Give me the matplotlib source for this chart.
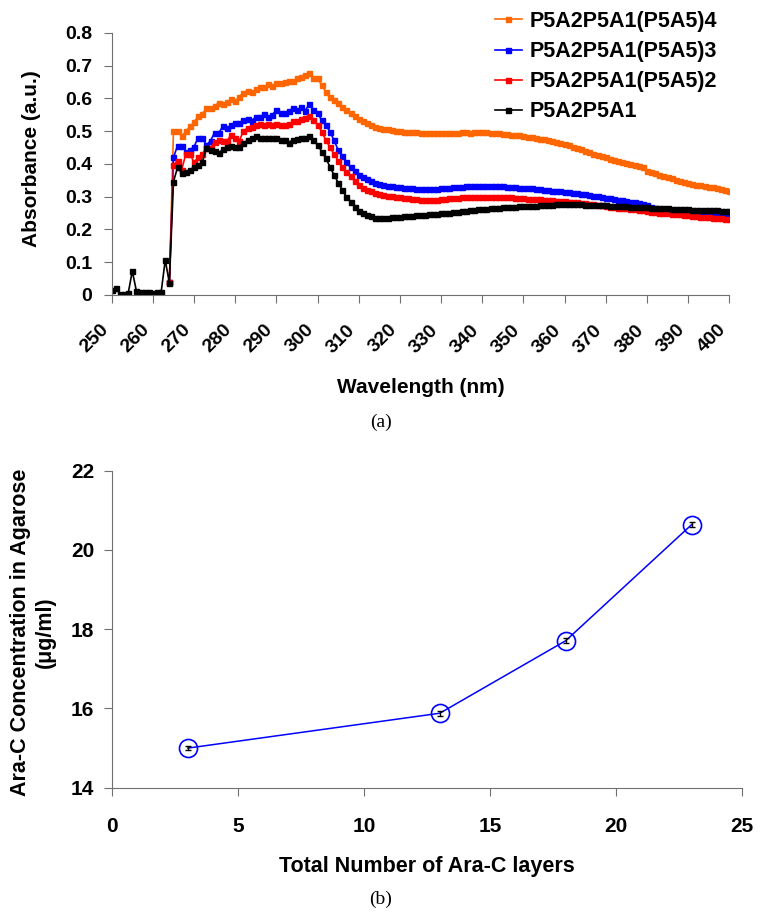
import numpy as np
import matplotlib
matplotlib.use("Agg")
import matplotlib.pyplot as plt

plt.rcParams['font.family'] = ['Liberation Sans', 'DejaVu Sans']
plt.rcParams['font.weight'] = 'bold'

# (a) absorbance spectra, 1 nm steps
wl_black = np.arange(250, 401)
wl_layers = np.arange(264, 401)

abs_black = [
    0.015, 0.02, 0.003, 0.003, 0.005, 0.073, 0.012, 0.008, 0.008, 0.008, 0.005, 0.01, 0.008, 0.107, 0.037,
    0.346, 0.39, 0.372, 0.376, 0.383, 0.39, 0.397, 0.405, 0.45, 0.443,
    0.44, 0.433, 0.445, 0.451, 0.455, 0.452, 0.453, 0.463, 0.473, 0.48,
    0.484, 0.48, 0.478, 0.478, 0.48, 0.48, 0.474, 0.474, 0.465, 0.474,
    0.475, 0.48, 0.478, 0.484, 0.473, 0.458, 0.438, 0.417, 0.392, 0.366,
    0.343, 0.321, 0.30, 0.285, 0.27, 0.257, 0.25, 0.244, 0.24, 0.236,
    0.235, 0.236, 0.236, 0.237, 0.238, 0.239, 0.24, 0.241, 0.242, 0.243,
    0.244, 0.245, 0.246, 0.247, 0.248, 0.249, 0.25, 0.251, 0.253, 0.254,
    0.256, 0.257, 0.259, 0.26, 0.262, 0.263, 0.264, 0.265, 0.266, 0.267,
    0.268, 0.269, 0.27, 0.27, 0.271, 0.271, 0.272, 0.272, 0.273, 0.274,
    0.275, 0.276, 0.276, 0.277, 0.277, 0.277, 0.277, 0.277, 0.277, 0.277,
    0.276, 0.276, 0.275, 0.275, 0.274, 0.274, 0.273, 0.272, 0.272, 0.271,
    0.271, 0.27, 0.27, 0.269, 0.268, 0.268, 0.267, 0.266, 0.266, 0.265,
    0.265, 0.264, 0.263, 0.263, 0.262, 0.262, 0.261, 0.261, 0.26, 0.259,
    0.259, 0.258, 0.258, 0.257, 0.257, 0.256,
]

abs_red = [
    0.04,
    0.397, 0.41, 0.383, 0.43, 0.43, 0.405, 0.42, 0.43, 0.45, 0.448,
    0.468, 0.473, 0.471, 0.471, 0.489, 0.478, 0.47, 0.502, 0.509, 0.514,
    0.519, 0.522, 0.52, 0.523, 0.52, 0.522, 0.52, 0.52, 0.521, 0.53,
    0.53, 0.536, 0.54, 0.545, 0.534, 0.519, 0.499, 0.473, 0.451, 0.43,
    0.41, 0.39, 0.376, 0.362, 0.349, 0.336, 0.328, 0.321, 0.316, 0.312,
    0.308, 0.305, 0.303, 0.301, 0.299, 0.298, 0.297, 0.295, 0.293, 0.292,
    0.291, 0.29, 0.29, 0.29, 0.291, 0.292, 0.293, 0.295, 0.296, 0.297,
    0.298, 0.298, 0.298, 0.298, 0.298, 0.298, 0.298, 0.299, 0.299, 0.298,
    0.299, 0.30, 0.298, 0.297, 0.296, 0.295, 0.294, 0.294, 0.293, 0.292,
    0.291, 0.29, 0.289, 0.288, 0.287, 0.286, 0.285, 0.284, 0.283, 0.281,
    0.28, 0.279, 0.277, 0.276, 0.274, 0.272, 0.27, 0.269, 0.267, 0.266,
    0.265, 0.264, 0.262, 0.26, 0.258, 0.256, 0.254, 0.253, 0.251, 0.25,
    0.249, 0.248, 0.247, 0.246, 0.245, 0.244, 0.242, 0.24, 0.239, 0.238,
    0.237, 0.236, 0.235, 0.234, 0.233, 0.232,
]

abs_blue = [
    0.04,
    0.42, 0.456, 0.456, 0.438, 0.443, 0.453, 0.48, 0.478, 0.458, 0.471,
    0.496, 0.494, 0.516, 0.509, 0.519, 0.524, 0.526, 0.534, 0.538, 0.532,
    0.544, 0.544, 0.552, 0.543, 0.55, 0.565, 0.557, 0.555, 0.562, 0.57,
    0.565, 0.573, 0.563, 0.583, 0.565, 0.555, 0.534, 0.519, 0.499, 0.472,
    0.443, 0.423, 0.405, 0.39, 0.378, 0.366, 0.359, 0.353, 0.347, 0.343,
    0.339, 0.336, 0.334, 0.332, 0.33, 0.329, 0.328, 0.327, 0.326, 0.325,
    0.324, 0.323, 0.324, 0.325, 0.325, 0.326, 0.327, 0.328, 0.329, 0.33,
    0.331, 0.333, 0.333, 0.333, 0.334, 0.333, 0.333, 0.332, 0.333, 0.333,
    0.332, 0.331, 0.33, 0.329, 0.328, 0.327, 0.326, 0.326, 0.324, 0.323,
    0.322, 0.321, 0.319, 0.318, 0.316, 0.315, 0.313, 0.311, 0.31, 0.308,
    0.307, 0.305, 0.303, 0.301, 0.299, 0.297, 0.295, 0.293, 0.291, 0.289,
    0.287, 0.285, 0.283, 0.28, 0.277, 0.274, 0.27, 0.267, 0.264, 0.262,
    0.26, 0.259, 0.257, 0.256, 0.255, 0.253, 0.252, 0.251, 0.25, 0.249,
    0.248, 0.247, 0.246, 0.245, 0.244, 0.244,
]

abs_orange = [
    0.04,
    0.50, 0.50, 0.485, 0.50, 0.515, 0.527, 0.547, 0.553, 0.57, 0.57,
    0.577, 0.587, 0.583, 0.59, 0.597, 0.591, 0.606, 0.618, 0.624, 0.619,
    0.628, 0.636, 0.634, 0.644, 0.639, 0.646, 0.648, 0.651, 0.653, 0.653,
    0.662, 0.667, 0.672, 0.679, 0.663, 0.662, 0.64, 0.62, 0.605, 0.594,
    0.585, 0.574, 0.565, 0.555, 0.545, 0.536, 0.53, 0.524, 0.518, 0.514,
    0.51, 0.508, 0.506, 0.503, 0.501, 0.50, 0.499, 0.498, 0.497, 0.497,
    0.495, 0.496, 0.494, 0.496, 0.494, 0.494, 0.495, 0.496, 0.494, 0.495,
    0.497, 0.499, 0.496, 0.497, 0.499, 0.498, 0.497, 0.496, 0.495, 0.494,
    0.493, 0.491, 0.489, 0.488, 0.487, 0.485, 0.483, 0.482, 0.48, 0.477,
    0.475, 0.472, 0.47, 0.467, 0.464, 0.46, 0.457, 0.453, 0.449, 0.445,
    0.441, 0.436, 0.432, 0.428, 0.424, 0.42, 0.416, 0.412, 0.408, 0.405,
    0.402, 0.4, 0.397, 0.395, 0.392, 0.378, 0.375, 0.371, 0.367, 0.363,
    0.36, 0.356, 0.352, 0.349, 0.346, 0.343, 0.34, 0.337, 0.335, 0.333,
    0.331, 0.329, 0.327, 0.324, 0.321, 0.318,
]

# (b) Ara-C release
layers = [3, 13, 18, 23]
conc = [15.0, 15.88, 17.71, 20.64]
conc_err = [0.06, 0.06, 0.07, 0.07]

spine_col = '#707070'

fig = plt.figure(figsize=(7.62, 9.21), dpi=100)

# ---- panel (a)
ax1 = fig.add_axes([0.1466, 0.6797, 0.8105, 0.2845])
series = [
    (wl_layers, abs_orange, '#FF6600', 'P5A2P5A1(P5A5)4'),
    (wl_layers, abs_blue, '#0000FF', 'P5A2P5A1(P5A5)3'),
    (wl_layers, abs_red, '#FF0000', 'P5A2P5A1(P5A5)2'),
    (wl_black, abs_black, '#000000', 'P5A2P5A1'),
]
for x, y, c, lab in series:
    ax1.plot(x, y, color=c, lw=1.2, marker='s', ms=3.6, mec=c, mfc=c, label=lab)

ax1.set_xlim(250, 400)
ax1.set_ylim(0, 0.8)
ax1.set_xticks(np.arange(250, 401, 10))
ax1.set_yticks(np.arange(0, 0.81, 0.1))
ax1.set_yticklabels(['0'] + ['%.1f' % v for v in np.arange(0.1, 0.81, 0.1)])
for s in ['top', 'right']:
    ax1.spines[s].set_visible(False)
for s in ['left', 'bottom']:
    ax1.spines[s].set_color(spine_col)
ax1.tick_params(axis='both', direction='out', length=6, color=spine_col, labelsize=14)
ax1.tick_params(axis='y', pad=8)
ax1.tick_params(axis='x', pad=13)
for t in ax1.get_xticklabels():
    t.set_rotation(45)
    t.set_ha('right')
    t.set_va('top')
ax1.set_ylabel('Absorbance (a.u.)', fontsize=15, fontweight='bold')
ax1.yaxis.set_label_coords(-0.115, 0.52)
ax1.set_xlabel('Wavelength (nm)', fontsize=15, fontweight='bold')
ax1.xaxis.set_label_coords(0.5, -0.315)

leg = ax1.legend(loc='upper left', bbox_to_anchor=(495 / 762, 1 - 11 / 921),
                 bbox_transform=fig.transFigure, frameon=False, fontsize=15.5,
                 handlelength=1.25, handletextpad=0.35, labelspacing=0.42,
                 borderpad=0, borderaxespad=0)

fig.text(0.5, 1 - 422 / 921, '(a)', ha='center', va='center', fontsize=14,
         family='Liberation Serif', fontweight='normal')

# ---- panel (b)
ax2 = fig.add_axes([0.1474, 0.1447, 0.8264, 0.3442])
ax2.errorbar(layers, conc, yerr=conc_err, fmt='none', ecolor='black', elinewidth=1.0,
             capsize=2.5, capthick=1.0, zorder=3)
ax2.plot(layers, conc, color='#0000FF', lw=1.1, marker='o', ms=13, mfc='none',
         mec='#0000FF', mew=1.2, zorder=2)
ax2.set_xlim(0, 25)
ax2.set_ylim(14, 22)
ax2.set_xticks(np.arange(0, 26, 5))
ax2.set_yticks(np.arange(14, 23, 2))
for s in ['top', 'right']:
    ax2.spines[s].set_visible(False)
for s in ['left', 'bottom']:
    ax2.spines[s].set_color(spine_col)
ax2.tick_params(axis='both', direction='out', length=6, color=spine_col, labelsize=15)
ax2.tick_params(axis='y', pad=7)
ax2.tick_params(axis='x', pad=15)
ax2.set_ylabel('Ara-C Concentration in Agarose\n(\u03bcg/ml)', fontsize=15.5,
               fontweight='bold', linespacing=1.25)
ax2.yaxis.set_label_coords(-0.09, 0.49)
ax2.set_xlabel('Total Number of Ara-C layers', fontsize=15.5, fontweight='bold')
ax2.xaxis.set_label_coords(0.5, -0.215)

fig.text(0.5, 1 - 899 / 921, '(b)', ha='center', va='center', fontsize=14,
         family='Liberation Serif', fontweight='normal')

fig.savefig('out.png', dpi=100)
